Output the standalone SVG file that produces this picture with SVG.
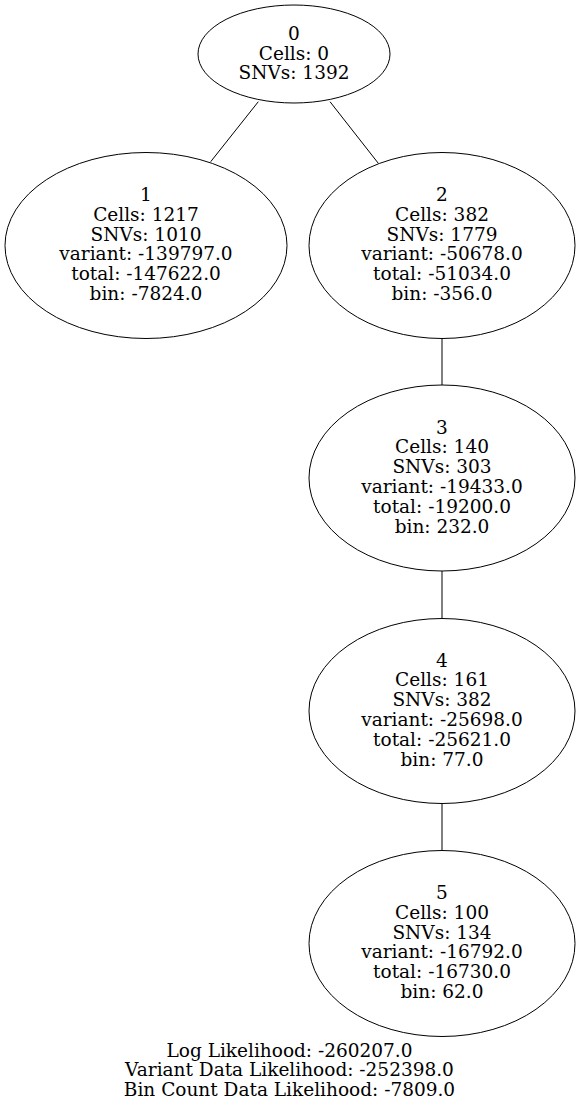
<svg xmlns="http://www.w3.org/2000/svg" width="579" height="1107" viewBox="0 0 579 1107">
<style>
.n{fill:none;stroke:#000;stroke-width:1}
.e{stroke:#000;stroke-width:1;fill:none}
text{font-family:"DejaVu Serif","Liberation Serif",serif;font-size:18.5px;fill:#000;text-anchor:middle}
</style>
<rect width="579" height="1107" fill="#fff"/>
<g id="edges">
<line class="e" x1="258.3" y1="101.7" x2="210.7" y2="161.7"/>
<line class="e" x1="330" y1="101.7" x2="378.3" y2="163.3"/>
<line class="e" x1="442" y1="338" x2="442" y2="385"/>
<line class="e" x1="442" y1="571" x2="442" y2="618"/>
<line class="e" x1="442" y1="803.5" x2="442" y2="850.5"/>
</g>
<g id="node0">
<ellipse class="n" cx="294" cy="54" rx="96" ry="49"/>
<text x="294" y="40">0</text>
<text x="294" y="59.7">Cells: 0</text>
<text x="294" y="79.4">SNVs: 1392</text>
</g>
<g id="node1">
<ellipse class="n" cx="146" cy="245.5" rx="141" ry="93"/>
<text x="146" y="201">1</text>
<text x="146" y="220.8">Cells: 1217</text>
<text x="146" y="240.6">SNVs: 1010</text>
<text x="146" y="260.4">variant: -139797.0</text>
<text x="146" y="280.2">total: -147622.0</text>
<text x="146" y="300">bin: -7824.0</text>
</g>
<g id="node2">
<ellipse class="n" cx="442" cy="245.5" rx="133" ry="93"/>
<text x="442" y="201">2</text>
<text x="442" y="220.8">Cells: 382</text>
<text x="442" y="240.6">SNVs: 1779</text>
<text x="442" y="260.4">variant: -50678.0</text>
<text x="442" y="280.2">total: -51034.0</text>
<text x="442" y="300">bin: -356.0</text>
</g>
<g id="node3">
<ellipse class="n" cx="442" cy="478" rx="133" ry="93"/>
<text x="442" y="433.5">3</text>
<text x="442" y="453.3">Cells: 140</text>
<text x="442" y="473.1">SNVs: 303</text>
<text x="442" y="492.9">variant: -19433.0</text>
<text x="442" y="512.7">total: -19200.0</text>
<text x="442" y="532.5">bin: 232.0</text>
</g>
<g id="node4">
<ellipse class="n" cx="442" cy="711" rx="133" ry="92.5"/>
<text x="442" y="666.5">4</text>
<text x="442" y="686.3">Cells: 161</text>
<text x="442" y="706.1">SNVs: 382</text>
<text x="442" y="725.9">variant: -25698.0</text>
<text x="442" y="745.7">total: -25621.0</text>
<text x="442" y="765.5">bin: 77.0</text>
</g>
<g id="node5">
<ellipse class="n" cx="442" cy="943.5" rx="133" ry="93"/>
<text x="442" y="899">5</text>
<text x="442" y="918.8">Cells: 100</text>
<text x="442" y="938.6">SNVs: 134</text>
<text x="442" y="958.4">variant: -16792.0</text>
<text x="442" y="978.2">total: -16730.0</text>
<text x="442" y="998">bin: 62.0</text>
</g>
<g id="label">
<text x="289.5" y="1056.7">Log Likelihood: -260207.0</text>
<text x="289.5" y="1076.4">Variant Data Likelihood: -252398.0</text>
<text x="289.5" y="1096">Bin Count Data Likelihood: -7809.0</text>
</g>
</svg>
